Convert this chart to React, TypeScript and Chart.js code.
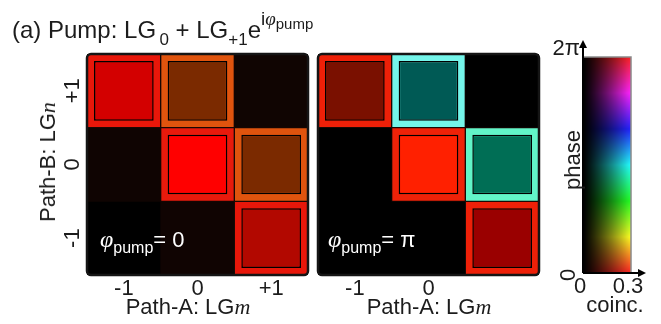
import React, { useEffect, useRef } from 'react';
import { Chart, registerables } from 'chart.js';

Chart.register(...registerables);

// ---------- data ----------
const pathAModes = ['-1', '0', '+1'];
const pathATickLabelsZero = ['-1', '0', '+1'];
const pathATickLabelsPi = ['-1', '0', ''];
const pathBModes = [-1, 0, 1];
const pathBTickLabels = ['-1', '0', '+1'];

// non-zero coincidence cells: (Path-A mode m, Path-B mode n)
const cellA = ['-1', '0', '0', '+1', '+1'];
const cellB = [1, 1, 0, 0, -1];

// φ_pump = 0 : expected (outer) and measured (inner) colour-coded amplitudes
const phase0Expected = ['#e8170a', '#e0540e', '#e81a0c', '#e0540e', '#e8170a'];
const phase0Measured = ['#d30000', '#7b2a00', '#ff0000', '#7b2a00', '#b20800'];
// background cells, rows n = -1, 0, +1 ; columns m = -1, 0, +1
const phase0Background = [
  ['#000000', '#100402', '#110503'],
  ['#0f0402', '#110503', '#110503'],
  ['#110503', '#110503', '#100502'],
];

// φ_pump = π
const phasePiExpected = ['#ee2008', '#74f5ea', '#ee2208', '#62f5c8', '#ee2008'];
const phasePiMeasured = ['#7a1000', '#005a55', '#ff2000', '#006e55', '#9a0000'];
const phasePiBackground = [
  ['#000000', '#000000', '#000000'],
  ['#000000', '#000000', '#000000'],
  ['#000000', '#000000', '#000000'],
];

// colour bar
const coincTicks = [0, 0.3];
const coincTickLabels = ['0', '0.3'];
const phaseMin = 0;
const phaseMax = 2 * Math.PI;
const phaseTopLabel = '2π';
const phaseBottomLabel = '0';

// ---------- styles ----------
const SANS = "'Liberation Sans', Arial, sans-serif";
const SERIF = "'Liberation Serif', 'DejaVu Serif', serif";
const TEXT = '#1c1c1c';
const INNER = 0.81;

const panelFrame = {
  id: 'panelFrame',
  afterDatasetsDraw(chart: any) {
    const { ctx, chartArea: a } = chart;
    ctx.save();
    ctx.strokeStyle = '#151515';
    ctx.lineWidth = 2.5;
    ctx.beginPath();
    ctx.roundRect(a.left, a.top, a.right - a.left, a.bottom - a.top, 4);
    ctx.stroke();
    ctx.restore();
  },
};

function hsvToRgb(h: number, s: number, v: number) {
  const c = v * s;
  const hp = ((h % 360) + 360) % 360 / 60;
  const x = c * (1 - Math.abs((hp % 2) - 1));
  let r = 0, g = 0, b = 0;
  if (hp < 1) [r, g, b] = [c, x, 0];
  else if (hp < 2) [r, g, b] = [x, c, 0];
  else if (hp < 3) [r, g, b] = [0, c, x];
  else if (hp < 4) [r, g, b] = [0, x, c];
  else if (hp < 5) [r, g, b] = [x, 0, c];
  else [r, g, b] = [c, 0, x];
  const m = v - c;
  return [(r + m) * 255, (g + m) * 255, (b + m) * 255];
}

const colourMap = {
  id: 'colourMap',
  beforeDatasetsDraw(chart: any) {
    const { ctx, chartArea: a, scales } = chart;
    const xs = scales.x, ys = scales.y;
    const l = Math.round(a.left), t = Math.round(a.top);
    const w = Math.round(a.right) - l, h = Math.round(a.bottom) - t;
    const img = ctx.createImageData(w, h);
    for (let py = 0; py < h; py++) {
      const ph = ys.getValueForPixel(t + py + 0.5);
      for (let px = 0; px < w; px++) {
        const c = xs.getValueForPixel(l + px + 0.5);
        const v = Math.pow(Math.max(0, Math.min(1, c / coincTicks[1])), 1.2);
        const [r, g, b] = hsvToRgb((ph / (2 * Math.PI)) * 360, 0.86, v);
        const k = (py * w + px) * 4;
        img.data[k] = r; img.data[k + 1] = g; img.data[k + 2] = b; img.data[k + 3] = 255;
      }
    }
    ctx.putImageData(img, l, t);
  },
  afterDraw(chart: any) {
    const { ctx, chartArea: a } = chart;
    ctx.save();
    ctx.strokeStyle = '#8a8a8a';
    ctx.lineWidth = 1.5;
    ctx.beginPath();
    ctx.moveTo(a.left, a.top);
    ctx.lineTo(a.right, a.top);
    ctx.lineTo(a.right, a.bottom);
    ctx.stroke();
    ctx.strokeStyle = '#000';
    ctx.fillStyle = '#000';
    ctx.lineWidth = 2;
    ctx.beginPath();
    ctx.moveTo(a.left, a.bottom);
    ctx.lineTo(a.left, a.top - 12);
    ctx.moveTo(a.left, a.bottom);
    ctx.lineTo(a.right + 10, a.bottom);
    ctx.stroke();
    ctx.beginPath();
    ctx.moveTo(a.left, a.top - 17);
    ctx.lineTo(a.left - 4, a.top - 9);
    ctx.lineTo(a.left + 4, a.top - 9);
    ctx.closePath();
    ctx.fill();
    ctx.beginPath();
    ctx.moveTo(a.right + 15, a.bottom);
    ctx.lineTo(a.right + 7, a.bottom - 4);
    ctx.lineTo(a.right + 7, a.bottom + 4);
    ctx.closePath();
    ctx.fill();
    ctx.restore();
  },
};

function matrixConfig(
  xTickLabels: string[],
  bg: string[][],
  expected: string[],
  measured: string[],
  showY: boolean,
  padding: any,
) {
  const bgData: any[] = [];
  const bgColors: string[] = [];
  pathBModes.forEach((n, r) =>
    pathAModes.forEach((m, c) => {
      bgData.push({ x: m, y: [n - 0.5, n + 0.5] });
      bgColors.push(bg[r][c]);
    }),
  );
  const expData = cellA.map((m, i) => ({ x: m, y: [cellB[i] - 0.5, cellB[i] + 0.5] }));
  const measData = cellA.map((m, i) => ({ x: m, y: [cellB[i] - INNER / 2, cellB[i] + INNER / 2] }));
  return {
    type: 'bar',
    data: {
      labels: pathAModes,
      datasets: [
        {
          data: measData, backgroundColor: measured, borderColor: '#000', borderWidth: 1.5,
          borderSkipped: false, barPercentage: INNER, categoryPercentage: 1, grouped: false,
        },
        {
          data: expData, backgroundColor: expected, borderColor: '#1a0804', borderWidth: 1,
          borderSkipped: false, barPercentage: 1, categoryPercentage: 1, grouped: false,
        },
        {
          data: bgData, backgroundColor: bgColors, borderWidth: 0,
          barPercentage: 1, categoryPercentage: 1, grouped: false,
        },
      ],
    },
    options: {
      responsive: false,
      animation: false,
      devicePixelRatio: 1,
      events: [],
      layout: { padding },
      plugins: { legend: { display: false }, tooltip: { enabled: false } },
      scales: {
        x: {
          type: 'category',
          offset: true,
          grid: { display: false, drawTicks: false },
          border: { display: false },
          ticks: {
            color: TEXT, font: { family: SANS, size: 22 }, padding: 1, maxRotation: 0, autoSkip: false,
            callback: (_v: any, i: number) => xTickLabels[i],
          },
          afterFit: (s: any) => { s.height = 40; },
        },
        y: {
          type: 'linear',
          min: -1.5,
          max: 1.5,
          display: showY,
          grid: { display: false, drawTicks: false },
          border: { display: false },
          afterBuildTicks: (s: any) => { s.ticks = pathBModes.map((v) => ({ value: v })); },
          ticks: {
            color: TEXT, font: { family: SANS, size: 22 }, padding: 2,
            minRotation: 90, maxRotation: 90, crossAlign: 'center',
            callback: (_v: any, i: number) => pathBTickLabels[i],
          },
          afterFit: (s: any) => { s.width = showY ? 30 : 0; },
        },
      },
    },
    plugins: [panelFrame],
  };
}

function colourBarConfig() {
  const tickFont = { family: SANS, size: 22 };
  return {
    type: 'scatter',
    data: { datasets: [] },
    options: {
      responsive: false,
      animation: false,
      devicePixelRatio: 1,
      events: [],
      layout: { padding: { left: 0, right: 30, top: 57, bottom: 27 } },
      plugins: { legend: { display: false }, tooltip: { enabled: false } },
      scales: {
        x: {
          type: 'linear', min: coincTicks[0], max: coincTicks[1],
          grid: { display: false, drawTicks: false }, border: { display: false },
          afterBuildTicks: (s: any) => { s.ticks = coincTicks.map((v) => ({ value: v })); },
          ticks: {
            color: TEXT, font: tickFont, padding: 1, maxRotation: 0, labelOffset: -3,
            callback: (_v: any, i: number) => coincTickLabels[i],
          },
          afterFit: (s: any) => { s.height = 24; },
        },
        y: {
          type: 'linear', min: phaseMin, max: phaseMax, position: 'left', weight: 0,
          grid: { display: false, drawTicks: false }, border: { display: false },
          afterBuildTicks: (s: any) => { s.ticks = [{ value: phaseMax }]; },
          ticks: {
            color: TEXT, font: tickFont, padding: 3, labelOffset: -8,
            callback: () => phaseTopLabel,
          },
          afterFit: (s: any) => { s.width = 43; },
        },
        yZero: {
          type: 'linear', min: phaseMin, max: phaseMax, position: 'left', weight: 1,
          grid: { display: false, drawTicks: false }, border: { display: false },
          afterBuildTicks: (s: any) => { s.ticks = [{ value: phaseMin }]; },
          ticks: {
            color: TEXT, font: tickFont, mirror: true, padding: 23, labelOffset: 2,
            minRotation: 90, maxRotation: 90, crossAlign: 'center',
            callback: () => phaseBottomLabel,
          },
          afterFit: (s: any) => { s.width = 0; },
        },
      },
    },
    plugins: [colourMap],
  };
}

const abs = (extra: any): any => ({ position: 'absolute', whiteSpace: 'nowrap', ...extra });
const Sub = ({ children, size = 15, top = 7 }: any) => (
  <span style={{ fontSize: size, position: 'relative', top }}>{children}</span>
);
const Phi = ({ size }: any) => (
  <span style={{ fontFamily: SERIF, fontStyle: 'italic', fontSize: size }}>φ</span>
);
const Var = ({ children }: any) => (
  <span style={{ fontFamily: SERIF, fontStyle: 'italic' }}>{children}</span>
);

export default function App() {
  const leftRef = useRef<HTMLCanvasElement>(null);
  const rightRef = useRef<HTMLCanvasElement>(null);
  const barRef = useRef<HTMLCanvasElement>(null);

  useEffect(() => {
    const charts = [
      new Chart(leftRef.current as any, matrixConfig(pathATickLabelsZero, phase0Background, phase0Expected, phase0Measured, true,
        { left: 57, right: 4, top: 54, bottom: 9 }) as any),
      new Chart(rightRef.current as any, matrixConfig(pathATickLabelsPi, phasePiBackground, phasePiExpected, phasePiMeasured, false,
        { left: 6, right: 8, top: 54, bottom: 9 }) as any),
      new Chart(barRef.current as any, colourBarConfig() as any),
    ];
    return () => charts.forEach((c) => c.destroy());
  }, []);

  return (
    <div style={{ position: 'absolute', left: 0, top: 0, width: 661, height: 324, background: '#fff', overflow: 'hidden', fontFamily: SANS, color: TEXT }}>
      <canvas ref={leftRef} width={312} height={324} style={abs({ left: 0, top: 0, width: 312, height: 324 })} />
      <canvas ref={rightRef} width={235} height={324} style={abs({ left: 312, top: 0, width: 235, height: 324 })} />
      <canvas ref={barRef} width={121} height={324} style={abs({ left: 540, top: 0, width: 121, height: 324 })} />

      <div style={abs({ left: 12, top: 18, fontSize: 24, lineHeight: '24px' })}>
        (a) Pump: LG<Sub size={17} top={7}>&thinsp;0</Sub> + LG<Sub size={17} top={7}>+1</Sub>e
        <span style={{ position: 'relative', top: -13, fontSize: 19 }}>
          i<Phi size={19} /><Sub size={15} top={4}>pump</Sub>
        </span>
      </div>

      <div style={abs({ left: 188, top: 296, fontSize: 22, lineHeight: '22px', transform: 'translateX(-50%)' })}>
        Path-A: LG<Var>m</Var>
      </div>
      <div style={abs({ left: 429, top: 296, fontSize: 22, lineHeight: '22px', transform: 'translateX(-50%)' })}>
        Path-A: LG<Var>m</Var>
      </div>
      <div style={abs({ left: 48, top: 162, fontSize: 22, lineHeight: '22px', transform: 'translate(-50%, -50%) rotate(-90deg)' })}>
        Path-B: LG<Var>n</Var>
      </div>
      <div style={abs({ left: 573, top: 160, fontSize: 22, lineHeight: '22px', transform: 'translate(-50%, -50%) rotate(-90deg)' })}>
        phase
      </div>
      <div style={abs({ left: 615, top: 294, fontSize: 22, lineHeight: '22px', transform: 'translateX(-50%)' })}>
        coinc.
      </div>

      <div style={abs({ left: 100, top: 228, fontSize: 22, lineHeight: '22px', color: '#fff' })}>
        <Phi size={24} /><Sub size={16} top={6}>pump</Sub>= 0
      </div>
      <div style={abs({ left: 328, top: 228, fontSize: 22, lineHeight: '22px', color: '#fff' })}>
        <Phi size={24} /><Sub size={16} top={6}>pump</Sub>= π
      </div>
    </div>
  );
}
